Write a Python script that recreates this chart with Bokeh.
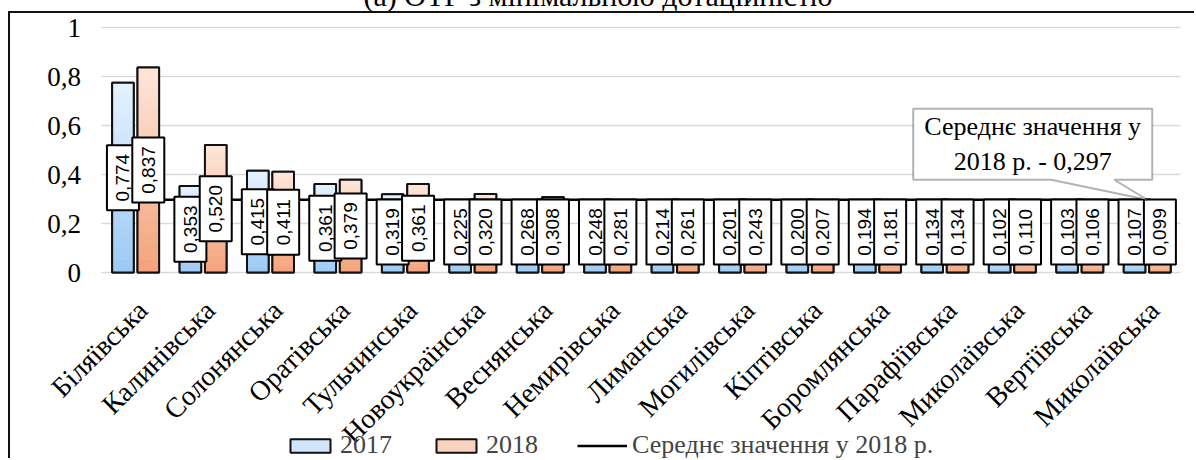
import math
from bokeh.plotting import figure
from bokeh.layouts import column
from bokeh.models import (Range1d, FixedTicker, Legend, LegendItem, PolyAnnotation,
                          Label, Div, Grid)
from bokeh.core.properties import value
from bokeh.embed import file_html
from bokeh.resources import INLINE

# ---------------- data ----------------
title = "(а) ОТГ з мінімальною дотаційністю"
communities = ["Біляївська", "Калинівська", "Солонянська", "Оратівська", "Тульчинська",
               "Новоукраїнська", "Веснянська", "Немирівська", "Лиманська", "Могилівська",
               "Кіптівська", "Боромлянська", "Парафіївська", "Миколаївська", "Вертіївська",
               "Миколаївська"]
v2017 = [0.774, 0.353, 0.415, 0.361, 0.319, 0.225, 0.268, 0.248, 0.214, 0.201,
         0.200, 0.194, 0.134, 0.102, 0.103, 0.107]
v2018 = [0.837, 0.520, 0.411, 0.379, 0.361, 0.320, 0.308, 0.281, 0.261, 0.243,
         0.207, 0.181, 0.134, 0.110, 0.106, 0.099]
mean_2018 = 0.297
series_names = ["2017", "2018"]
mean_label = "Середнє значення у 2018 р."
callout_text = "Середнє значення у\n2018 р. - 0,297"
y_ticks = [0, 0.2, 0.4, 0.6, 0.8, 1.0]
y_tick_labels = ["0", "0,2", "0,4", "0,6", "0,8", "1"]

# ---------------- layout ----------------
W, H = 1186, 447
n = len(communities)
PXU = 245.0            # pixels per 1.0 on the value axis
PXX = 67.44            # pixels per category
CAT_LEFT = 91.4        # canvas x where the first category starts
VAL_TOP = 14.0         # canvas y of the value 1.0
x_start = -0.5 - CAT_LEFT / PXX
x_end = x_start + W / PXX
y_end = 1.0 + VAL_TOP / PXU
y_start = y_end - H / PXU
px_x = 1.0 / PXX
px_y = 1.0 / PXU

SERIF = "Liberation Serif"
SANS = "Liberation Sans"

p = figure(width=W, height=H, x_range=Range1d(x_start, x_end), y_range=Range1d(y_start, y_end),
           output_backend="svg", toolbar_location=None,
           x_axis_location=None, y_axis_location=None,
           min_border_left=0, min_border_right=0, min_border_top=0, min_border_bottom=0,
           margin=(0, 0, 0, 8),
           styles={"border-top": "2px solid #111", "border-left": "2px solid #111"})
p.outline_line_color = None
p.background_fill_color = "white"
p.border_fill_color = "white"
p.xgrid.visible = False
p.ygrid.visible = False

grid = Grid(dimension=1, ticker=FixedTicker(ticks=y_ticks),
            grid_line_color="#d9d9d9", grid_line_width=1.5)
if "cross_bounds" in grid.properties():
    grid.cross_bounds = (-0.5, n - 0.5)
    p.add_layout(grid)
else:
    p.segment(x0=[-0.5] * len(y_ticks), x1=[n - 0.5] * len(y_ticks), y0=y_ticks, y1=y_ticks,
              line_color="#d9d9d9", line_width=1.5)

# value-axis tick labels
p.text(x=[-0.5] * len(y_ticks), y=y_ticks, text=y_tick_labels, x_offset=-21,
       text_align="right", text_baseline="middle",
       text_font=value(SERIF), text_font_size="27px", text_color="black")


def mix(c1, c2, t):
    a = [int(c1[i:i + 2], 16) for i in (1, 3, 5)]
    b = [int(c2[i:i + 2], 16) for i in (1, 3, 5)]
    return "#%02x%02x%02x" % tuple(round(a[k] + (b[k] - a[k]) * t) for k in range(3))


BAR_W = 0.32
OFF = 0.188
styles = [
    dict(vals=v2017, off=-OFF, bottom="#9ccaf4", top="#e4f1fe", base="#cfe6fb"),
    dict(vals=v2018, off=+OFF, bottom="#f4a37c", top="#fde6d9", base="#fad3bf"),
]
NS = 30
base_renderers = []
for s in styles:
    xs = [i + s["off"] for i in range(n)]
    base = p.vbar(x=xs, top=s["vals"], bottom=0, width=BAR_W, fill_color=s["base"],
                  line_color="#111111", line_width=2)
    base_renderers.append(base)
    sx, sb, st, sc = [], [], [], []
    for i, v in enumerate(s["vals"]):
        for k in range(NS):
            sx.append(xs[i])
            sb.append(v * k / NS)
            st.append(v * (k + 1) / NS + v * 0.002)
            sc.append(mix(s["bottom"], s["top"], k / (NS - 1)))
    p.vbar(x=sx, bottom=sb, top=st, width=BAR_W, fill_color=sc, line_color=None)
    p.vbar(x=xs, top=s["vals"], bottom=0, width=BAR_W, fill_color=None,
           line_color="#111111", line_width=2)

mean_line = p.line(x=list(range(n)), y=[mean_2018] * n, line_color="black", line_width=2.5)

# data labels
MIN_C = 0.165
for s in styles:
    xs = [i + s["off"] for i in range(n)]
    cy = [max(v / 2, MIN_C) for v in s["vals"]]
    p.rect(x=xs, y=cy, width=32, height=65, width_units="screen", height_units="screen",
           fill_color="white", line_color="black", line_width=2)
    p.text(x=xs, y=cy, text=[("%.3f" % v).replace(".", ",") for v in s["vals"]],
           angle=math.pi / 2, text_align="center", text_baseline="middle",
           text_font=value(SANS), text_font_size="19px", text_color="black")

# category labels, rotated 45 degrees under the baseline
p.text(x=list(range(n)), y=[0] * n, text=communities, angle=math.pi / 4,
       text_align="right", text_baseline="middle", x_offset=7, y_offset=33,
       text_font=value(SERIF), text_font_size="28px", text_color="black")

# callout
tx, ty = n - 1, mean_2018
bl, br = tx - 234 * px_x, tx + 5 * px_x
bb, bt = ty + 20 * px_y, ty + 91 * px_y
pl, pr = tx - 96 * px_x, tx - 33 * px_x
poly = PolyAnnotation(xs=[bl, br, br, pr, tx, pl, bl], ys=[bt, bt, bb, bb, ty, bb, bb],
                      fill_color="white", fill_alpha=1, line_color="black", line_width=2)
p.add_layout(poly)
p.add_layout(Label(x=(bl + br) / 2, y=(bb + bt) / 2, text=callout_text, text_align="center",
                   text_baseline="middle", text_font=SERIF, text_font_size="26px",
                   text_color="black"))

# legend
leg = Legend(items=[LegendItem(label=series_names[0], renderers=[base_renderers[0]]),
                    LegendItem(label=series_names[1], renderers=[base_renderers[1]]),
                    LegendItem(label=mean_label, renderers=[mean_line])],
             orientation="horizontal", location=(275, 0), glyph_width=50, glyph_height=17,
             label_standoff=5, spacing=39, padding=0, margin=0,
             border_line_alpha=0, background_fill_alpha=0,
             label_text_font=SERIF, label_text_font_size="26px")
p.add_layout(leg)

title_div = Div(text=('<div style="position:relative; top:-19px; width:1196px; text-align:center; '
                      'font-family:\'Liberation Serif\'; font-size:30px; line-height:30px; '
                      'white-space:nowrap; color:#000;">' + title + '</div>'),
                width=1196, height=11, margin=0, styles={"overflow": "hidden"})

layout = column(title_div, p, spacing=0)
open("out.html", "w").write(file_html(layout, INLINE))
